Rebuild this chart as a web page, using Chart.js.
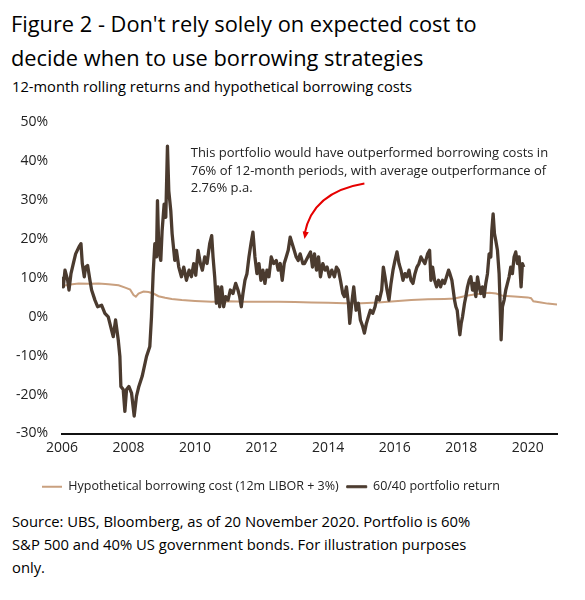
<!DOCTYPE html>
<html>
<head>
<meta charset="utf-8">
<script src="https://cdn.jsdelivr.net/npm/chart.js@4.4.1/dist/chart.umd.min.js"></script>
<style>
  body { margin: 0; background: #fff; font-family: 'Open Sans', sans-serif; color: #000; }
  .page { position: relative; width: 585px; height: 600px; overflow: hidden; }
  .title { position: absolute; left: 11px; top: 7px; margin: 0; font-size: 21.8px; line-height: 34px; font-weight: 400; }
  .subtitle { position: absolute; left: 12px; top: 77px; margin: 0; font-size: 14.7px; line-height: 18px; font-weight: 400; }
  .chart-box { position: absolute; left: 0; top: 100px; width: 585px; height: 403px; }
  .source { position: absolute; left: 12px; top: 510px; margin: 0; font-size: 14.8px; line-height: 23px; }
</style>
</head>
<body>
<div class="page">
  <h1 class="title">Figure 2 - Don't rely solely on expected cost to<br>decide when to use borrowing strategies</h1>
  <h2 class="subtitle">12-month rolling returns and hypothetical borrowing costs</h2>
  <div class="chart-box"><canvas id="borrowChart"></canvas></div>
  <p class="source">Source: UBS, Bloomberg, as of 20 November 2020. Portfolio is 60%<br>S&amp;P 500 and 40% US government bonds. For illustration purposes<br>only.</p>
</div>
<script>
// 60/40 portfolio, 12m rolling return (%)
const portfolioYears = [
  2006.01, 2006.04, 2006.09, 2006.17, 2006.21, 2006.27, 2006.34, 2006.41, 2006.51, 2006.57,
  2006.61, 2006.67, 2006.71, 2006.77, 2006.84, 2006.89, 2006.99, 2007.07, 2007.19, 2007.29,
  2007.39, 2007.49, 2007.54, 2007.61, 2007.69, 2007.74, 2007.77, 2007.84, 2007.89, 2007.94,
  2008.01, 2008.09, 2008.17, 2008.24, 2008.31, 2008.41, 2008.54, 2008.64, 2008.69, 2008.74,
  2008.79, 2008.84, 2008.87, 2008.91, 2008.97, 2009.01, 2009.07, 2009.12, 2009.17, 2009.21,
  2009.27, 2009.31, 2009.39, 2009.44, 2009.51,
  2009.59, 2009.66, 2009.74, 2009.82, 2009.89, 2009.96, 2010.02, 2010.09, 2010.16, 2010.22,
  2010.29, 2010.36, 2010.44, 2010.50, 2010.54, 2010.59, 2010.64, 2010.69, 2010.74, 2010.80,
  2010.86, 2010.92, 2010.99, 2011.06, 2011.14, 2011.22, 2011.29, 2011.34, 2011.39, 2011.44,
  2011.50, 2011.56, 2011.62, 2011.68, 2011.74, 2011.80, 2011.86, 2011.92, 2011.98, 2012.04,
  2012.10, 2012.16, 2012.22, 2012.29, 2012.36, 2012.44, 2012.50, 2012.56, 2012.62, 2012.68,
  2012.74, 2012.80, 2012.86, 2012.92, 2012.98, 2013.04, 2013.10, 2013.16, 2013.24,
  2013.29, 2013.39, 2013.47, 2013.53, 2013.59, 2013.65, 2013.71, 2013.77, 2013.84, 2013.91,
  2013.97, 2014.04, 2014.11, 2014.19, 2014.25, 2014.31, 2014.37, 2014.44, 2014.49, 2014.55,
  2014.61, 2014.65, 2014.71, 2014.77, 2014.84, 2014.91, 2014.97, 2015.04, 2015.09, 2015.15,
  2015.21, 2015.27, 2015.34, 2015.41, 2015.47, 2015.54, 2015.61, 2015.66, 2015.71, 2015.77,
  2015.83, 2015.89, 2015.95, 2016.01, 2016.07, 2016.13, 2016.19, 2016.25, 2016.31, 2016.37,
  2016.43, 2016.49, 2016.55, 2016.61, 2016.67, 2016.73, 2016.79, 2016.85, 2016.91, 2016.99,
  2017.05, 2017.09, 2017.14, 2017.20, 2017.26, 2017.32, 2017.38, 2017.44, 2017.50, 2017.56,
  2017.62, 2017.66, 2017.72, 2017.76, 2017.80, 2017.84, 2017.88, 2017.92, 2017.96, 2018.00,
  2018.04, 2018.10, 2018.14, 2018.19, 2018.24, 2018.29, 2018.34, 2018.39, 2018.44, 2018.49,
  2018.54, 2018.59, 2018.64, 2018.69, 2018.74, 2018.79, 2018.84, 2018.89, 2018.92, 2018.96,
  2019.00, 2019.04, 2019.09, 2019.14, 2019.17, 2019.20, 2019.24, 2019.29, 2019.34, 2019.39,
  2019.44, 2019.49, 2019.54, 2019.59, 2019.64, 2019.69, 2019.74, 2019.77, 2019.80, 2019.84,
  2019.88
];
const portfolioReturns = [
  10.3, 7.7, 12.0, 9.4, 6.9, 11.1, 13.7, 16.2, 18.0, 18.8,
  13.7, 10.3, 12.8, 13.2, 9.4, 6.9, 4.3, 2.6, 3.0, 0.9,
  0.0, -3.4, -5.1, -0.8, -5.9, -10.2, -17.9, -18.7, -24.3, -18.7,
  -17.9, -19.6, -25.5, -20.4, -17.9, -15.3, -10.2, -7.6, 0.0, 11.1,
  18.8, 15.4, 29.9, 17.1, 14.5, 22.2, 29.0, 25.6, 43.9, 32.4,
  27.3, 21.4, 14.5, 17.1, 12.8,
  10.3, 12.8, 9.4, 12.0, 10.3, 13.7, 10.7, 17.1, 13.7, 12.0,
  15.4, 13.7, 18.8, 20.9, 15.4, 10.3, 3.5, 7.7, 2.6, 7.7,
  2.6, 5.2, 4.3, 6.9, 6.0, 8.6, 6.9, 5.2, 2.6, 6.0,
  9.4, 11.1, 15.4, 18.8, 21.8, 15.4, 11.1, 13.7, 9.4, 12.0,
  8.6, 12.0, 10.3, 15.4, 13.7, 14.5, 12.0, 13.7, 9.4, 13.7,
  15.4, 17.1, 20.5, 18.8, 17.1, 15.4, 14.5, 16.2, 13.7,
  13.7, 15.4, 16.7, 12.8, 16.2, 12.0, 15.4, 10.3, 13.7, 12.0,
  12.8, 10.3, 12.0, 10.3, 12.8, 12.0, 9.4, 6.0, 5.2, 7.7,
  3.5, -1.7, 3.5, 7.7, 1.7, 3.5, -0.8, -2.5, -4.2, -1.7,
  0.0, 1.7, 0.9, 2.6, 5.2, 4.3, 6.9, 12.8, 10.3, 6.9,
  4.3, 8.6, 12.0, 14.5, 16.7, 13.7, 12.0, 9.4, 11.1, 10.3,
  12.0, 9.4, 8.6, 11.1, 12.8, 13.7, 15.4, 14.5, 13.7, 16.2,
  17.1, 9.4, 12.8, 9.4, 7.7, 9.4, 7.7, 9.4, 8.6, 10.3,
  12.0, 11.1, 9.4, 6.9, 4.3, 2.6, 1.7, -1.7, -4.6, -1.7,
  0.0, 3.5, 5.2, 7.7, 9.4, 10.3, 6.9, 8.6, 5.2, 10.3,
  7.7, 6.0, 7.7, 5.2, 8.6, 11.1, 16.2, 15.4, 22.2, 26.5,
  21.4, 19.6, 17.1, 11.1, 3.5, -5.9, 2.6, 4.3, 6.9, 8.6,
  10.3, 12.8, 11.1, 15.4, 16.7, 13.7, 15.4, 12.0, 7.7, 13.7,
  12.8
];

// hypothetical borrowing cost (12m LIBOR + 3%)
const borrowYears = [
  2006.00, 2006.25, 2006.50, 2006.80, 2007.10, 2007.40, 2007.70, 2007.90, 2008.05, 2008.15,
  2008.22, 2008.30, 2008.45, 2008.60, 2008.75, 2008.90, 2009.10, 2009.30, 2009.60, 2010.00,
  2010.50, 2011.00, 2011.50, 2012.00, 2012.50, 2013.00, 2013.50, 2014.00, 2014.50, 2015.00,
  2015.50, 2016.00, 2016.50, 2017.00, 2017.50, 2017.80, 2018.20, 2018.50, 2018.85, 2019.05,
  2019.25, 2019.60, 2020.00, 2020.10, 2020.17, 2020.40, 2020.60, 2020.88
];
const borrowCosts = [
  7.9, 8.3, 8.6, 8.5, 8.6, 8.4, 8.1, 7.5, 7.0, 5.6,
  5.2, 6.0, 6.5, 6.4, 6.0, 5.3, 4.9, 4.6, 4.3, 4.1,
  3.9, 4.0, 3.9, 3.9, 3.9, 3.8, 3.7, 3.6, 3.5, 3.5,
  3.7, 4.0, 4.3, 4.5, 4.6, 4.7, 5.5, 5.9, 6.2, 6.0,
  5.4, 5.2, 5.0, 4.8, 4.0, 3.7, 3.4, 3.2
];

const xTicks = [2006, 2008, 2010, 2012, 2014, 2016, 2018, 2020];
const yTicks = [-30, -20, -10, 0, 10, 20, 30, 40, 50];

const noteLines = [
  'This portfolio would have outperformed borrowing costs in',
  '76% of 12-month periods, with average outperformance of',
  '2.76% p.a.'
];

const toPoints = (xs, ys) => xs.map((x, i) => ({ x: x, y: ys[i] }));

// annotation text plus the curved red arrow
const notePlugin = {
  id: 'note',
  afterLayout(chart) {
    // legend sits a little in from the left edge, like the original
    if (chart.legend) chart.legend.left = 34;
  },
  afterDatasetsDraw(chart) {
    const { ctx, scales: { x, y } } = chart;
    ctx.save();
    ctx.font = "13px 'Open Sans', sans-serif";
    ctx.fillStyle = '#222';
    ctx.textBaseline = 'alphabetic';
    const tx = x.getPixelForValue(2009.87);
    const ty = y.getPixelForValue(41.0);
    noteLines.forEach((line, i) => ctx.fillText(line, tx, ty + i * 17.5));

    const sx = x.getPixelForValue(2015.09), sy = y.getPixelForValue(34.3);
    const cx = x.getPixelForValue(2013.53), cy = y.getPixelForValue(32.1);
    const ex = x.getPixelForValue(2013.29), ey = y.getPixelForValue(20.0);
    ctx.strokeStyle = '#e60000';
    ctx.fillStyle = '#e60000';
    ctx.lineWidth = 2;
    ctx.beginPath();
    ctx.moveTo(sx, sy);
    ctx.quadraticCurveTo(cx, cy, ex, ey - 5);
    ctx.stroke();
    const ang = Math.atan2(ey - cy, ex - cx);
    ctx.beginPath();
    ctx.moveTo(ex, ey);
    ctx.lineTo(ex - 8 * Math.cos(ang - 0.4), ey - 8 * Math.sin(ang - 0.4));
    ctx.lineTo(ex - 8 * Math.cos(ang + 0.4), ey - 8 * Math.sin(ang + 0.4));
    ctx.closePath();
    ctx.fill();
    ctx.restore();
  }
};

document.addEventListener('DOMContentLoaded', () => {
  const ctx = document.getElementById('borrowChart').getContext('2d');

  new Chart(ctx, {
    type: 'line',
    data: {
      datasets: [
        {
          label: '60/40 portfolio return',
          data: toPoints(portfolioYears, portfolioReturns),
          borderColor: '#4b3b2f',
          backgroundColor: '#4b3b2f',
          borderWidth: 3.3,
          borderJoinStyle: 'round',
          pointRadius: 0,
          tension: 0
        },
        {
          label: 'Hypothetical borrowing cost (12m LIBOR + 3%)',
          data: toPoints(borrowYears, borrowCosts),
          borderColor: '#c9a07f',
          backgroundColor: '#c9a07f',
          borderWidth: 2,
          pointRadius: 0,
          tension: 0
        }
      ]
    },
    options: {
      responsive: true,
      maintainAspectRatio: false,
      animation: false,
      layout: { padding: { top: 19, right: 28, left: 0, bottom: 0 } },
      scales: {
        x: {
          type: 'linear',
          min: 2006,
          max: 2020.88,
          grid: { display: false, drawTicks: false },
          border: { display: true, color: '#111', width: 2 },
          afterBuildTicks: (scale) => { scale.ticks = xTicks.map(v => ({ value: v })); },
          afterFit: (scale) => { scale.height = 39; },
          ticks: {
            padding: 6,
            color: '#222',
            font: { family: "'Open Sans', sans-serif", size: 14 },
            callback: (v) => String(v)
          }
        },
        y: {
          min: -30,
          max: 50,
          grid: { display: false, drawTicks: false },
          border: { display: false },
          afterBuildTicks: (scale) => { scale.ticks = yTicks.map(v => ({ value: v })); },
          afterFit: (scale) => { scale.width = 62; },
          ticks: {
            padding: 14,
            color: '#222',
            font: { family: "'Open Sans', sans-serif", size: 14 },
            callback: (v) => v + '%'
          }
        }
      },
      plugins: {
        legend: {
          position: 'bottom',
          align: 'start',
          labels: {
            boxWidth: 20,
            boxHeight: 2,
            padding: 8,
            color: '#222',
            font: { family: "'Open Sans', sans-serif", size: 12.5 },
            sort: (a, b) => b.datasetIndex - a.datasetIndex,
            generateLabels: (chart) => chart.data.datasets.map((ds, i) => ({
              text: ds.label,
              fillStyle: ds.borderColor,
              strokeStyle: ds.borderColor,
              lineWidth: i === 0 ? 1 : 0,
              fontColor: '#222',
              datasetIndex: i
            }))
          }
        },
        tooltip: { enabled: false }
      }
    },
    plugins: [notePlugin]
  });
});
</script>
</body>
</html>
